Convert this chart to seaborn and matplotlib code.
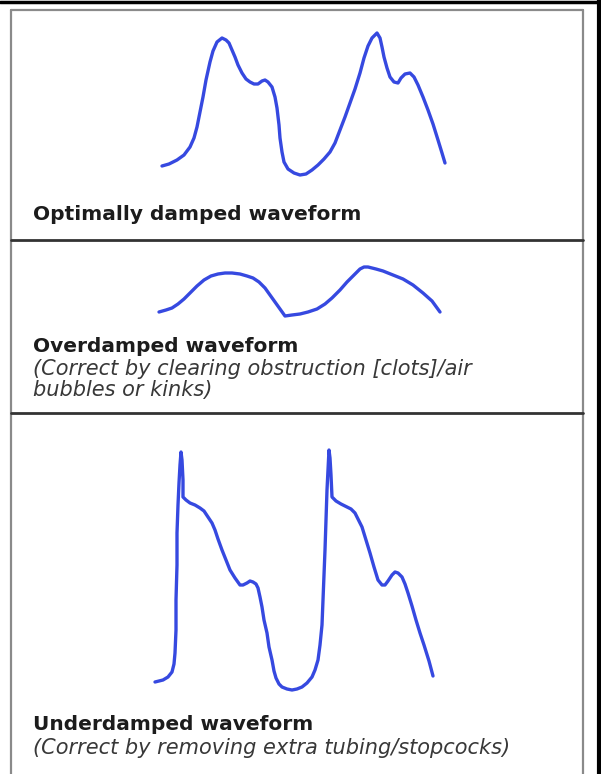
import matplotlib
matplotlib.use("Agg")
import matplotlib.pyplot as plt
import seaborn as sns
import pandas as pd

# waveform traces (x, y in picture pixels, y downwards)
optimal_x = [162, 169, 177, 184, 190, 194, 197, 200, 203, 206, 210, 213, 217, 222, 226,
             229, 232, 235, 238, 242, 246, 250, 254, 258, 262, 265, 268, 272, 275, 277,
             279, 280, 282, 284, 288, 294, 300, 306, 312, 318, 324, 330, 335, 340, 345,
             350, 355, 360, 364, 368, 372, 377, 380, 382, 384, 387, 390, 394, 398, 401,
             405, 410, 414, 418, 423, 428, 433, 438, 442, 445]
optimal_y = [166, 164, 160, 155, 147, 138, 127, 112, 97, 80, 62, 51, 42, 38, 40,
             43, 50, 57, 65, 73, 79, 82, 84, 84, 81, 80, 82, 87, 97, 108,
             125, 138, 152, 162, 169, 173, 175, 174, 170, 165, 159, 152, 143, 130, 117,
             103, 89, 73, 58, 46, 38, 33, 38, 47, 57, 68, 77, 82, 83, 78,
             74, 73, 77, 85, 97, 110, 124, 140, 153, 163]

over_x = [159, 166, 172, 178, 184, 190, 197, 204, 211, 218, 225, 232, 240, 247, 253,
          259, 265, 270, 275, 280, 285, 292, 300, 308, 317, 325, 332, 340, 347, 354,
          360, 364, 368, 376, 383, 393, 403, 413, 423, 432, 440]
over_y = [312, 310, 308, 304, 299, 293, 286, 280, 276, 274, 273, 273, 274, 276, 278,
          282, 288, 295, 302, 309, 316, 315, 314, 312, 309, 304, 298, 290, 282, 275,
          269, 267, 267, 269, 271, 275, 279, 285, 293, 301, 312]

under_x = [155, 159, 163, 168, 172, 174, 175, 176, 176, 177, 177, 178, 179, 180, 181,
           182, 183, 183, 186, 190, 195, 200, 204, 208, 212, 215, 218, 222, 226, 230,
           235, 240, 243, 247, 250, 253, 256, 258, 260, 262, 264, 267, 269, 272, 274,
           276, 279, 282, 287, 292, 297, 302, 307, 312, 315, 318, 320, 322, 323, 324,
           325, 326, 327, 328, 329, 330, 331, 332, 336, 341, 347, 351, 355, 358, 362,
           366, 370, 374, 378, 382, 385, 388, 392, 395, 398, 402, 405, 408, 412, 416,
           420, 424, 429, 433]
under_y = [682, 681, 680, 677, 672, 664, 653, 630, 600, 565, 533, 505, 483, 465, 452,
           460, 480, 497, 500, 503, 505, 508, 511, 517, 523, 530, 539, 550, 560, 570,
           578, 585, 585, 583, 581, 582, 584, 588, 597, 607, 620, 633, 647, 660, 671,
           678, 684, 687, 689, 690, 689, 687, 683, 677, 670, 660, 645, 625, 600, 575,
           550, 520, 490, 470, 450, 458, 475, 497, 501, 504, 507, 509, 513, 519, 527,
           540, 553, 567, 580, 585, 585, 581, 575, 572, 573, 577, 584, 593, 606, 620,
           633, 645, 661, 676]

labels = ["Optimally damped waveform", "Overdamped waveform", "Underdamped waveform"]
notes_over = ["(Correct by clearing obstruction [clots]/air", "bubbles or kinks)"]
notes_under = ["(Correct by removing extra tubing/stopcocks)"]

sns.set_style("white")
plt.rcParams['font.family'] = ['DejaVu Sans']

fig = plt.figure(figsize=(6.01, 7.74), dpi=100)
ax = fig.add_axes([0, 0, 1, 1])
ax.set_xlim(0, 601)
ax.set_ylim(774, 0)
ax.axis('off')

blue = "#3649e0"
traces = [(optimal_x, optimal_y), (over_x, over_y), (under_x, under_y)]
for xs, ys in traces:
    df = pd.DataFrame({'x': xs, 'y': ys})
    sns.lineplot(data=df, x='x', y='y', sort=False, estimator=None, ax=ax,
                 color=blue, lw=2.4, solid_joinstyle='round', solid_capstyle='round')
ax.set_xlabel('')
ax.set_ylabel('')

# panel frame
grey = "#8a8a8a"
ax.plot([11, 11], [10, 774], color=grey, lw=1.6)
ax.plot([583, 583], [10, 774], color=grey, lw=1.6)
ax.plot([11, 583], [10, 10], color=grey, lw=1.6)
for yy in [240, 413]:
    ax.plot([11, 583], [yy, yy], color="#333333", lw=2)
# outer black frame
ax.plot([0, 601], [1.5, 1.5], color="black", lw=2.5)
ax.plot([599, 599], [0, 774], color="black", lw=3)

# captions
bold_kw = dict(fontsize=14.5, fontweight='bold', color='#1c1c1c', va='center')
ital_kw = dict(fontsize=15, style='italic', color='#383838', va='center')
ax.text(33, 215, labels[0], **bold_kw)
ax.text(33, 347, labels[1], **bold_kw)
ax.text(33, 369, notes_over[0], **ital_kw)
ax.text(33, 390, notes_over[1], **ital_kw)
ax.text(33, 725, labels[2], **bold_kw)
ax.text(33, 748, notes_under[0], **ital_kw)

fig.savefig("out.png", dpi=100)
